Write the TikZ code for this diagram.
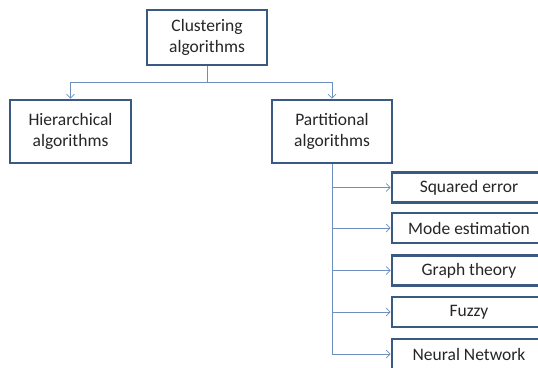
\documentclass[tikz,border=0pt]{standalone}
\usepackage{fontspec}
\setmainfont{Carlito}
\usetikzlibrary{arrows.meta}
\definecolor{boxline}{HTML}{3B5A82}
\definecolor{connline}{HTML}{6E8FBD}

\begin{document}
\begin{tikzpicture}[x=1pt,y=-1pt,
    algbox/.style={draw=boxline,line width=2.7pt,fill=white,align=center,
      inner sep=0pt,font=\fontsize{17.5}{20.5}\selectfont,text=black!85},
    conn/.style={draw=connline,line width=0.9pt},
    tip/.style={conn,-{Straight Barb[length=4pt,width=8pt,line width=0.7pt]}}]
  \useasboundingbox (0,0) rectangle (538,367);
  \clip (0,0) rectangle (538,367);
  \fill[white] (0,0) rectangle (538,367);

  % top level
  \node[algbox,minimum width=120pt,minimum height=55pt] (clus) at (207,37.5) {Clustering\\algorithms};
  \node[algbox,minimum width=121pt,minimum height=63pt] (hier) at (70.5,131.5) {Hierarchical\\algorithms};
  \node[algbox,minimum width=120pt,minimum height=63pt] (part) at (332,131.5) {Partitional\\algorithms};

  \coordinate (bus) at (207,82);
  \draw[conn] (clus) -- (bus);
  \draw[tip] (bus) -| (hier);
  \draw[tip] (bus) -| (part);

  % partitional methods
  \coordinate (trunk) at (332,354);
  \draw[conn] (part) -- (trunk);
  \foreach \y/\name/\txt in {187.5/sqe/Squared error, 228/mode/Mode estimation,
      270.5/graph/Graph theory, 312/fuzzy/Fuzzy, 354/neural/Neural Network}{
    \node[algbox,minimum width=154pt,minimum height=30pt] (\name) at (469,\y) {\txt};
    \draw[tip] (part.south |- \name.west) -- (\name);
  }
\end{tikzpicture}
\end{document}
